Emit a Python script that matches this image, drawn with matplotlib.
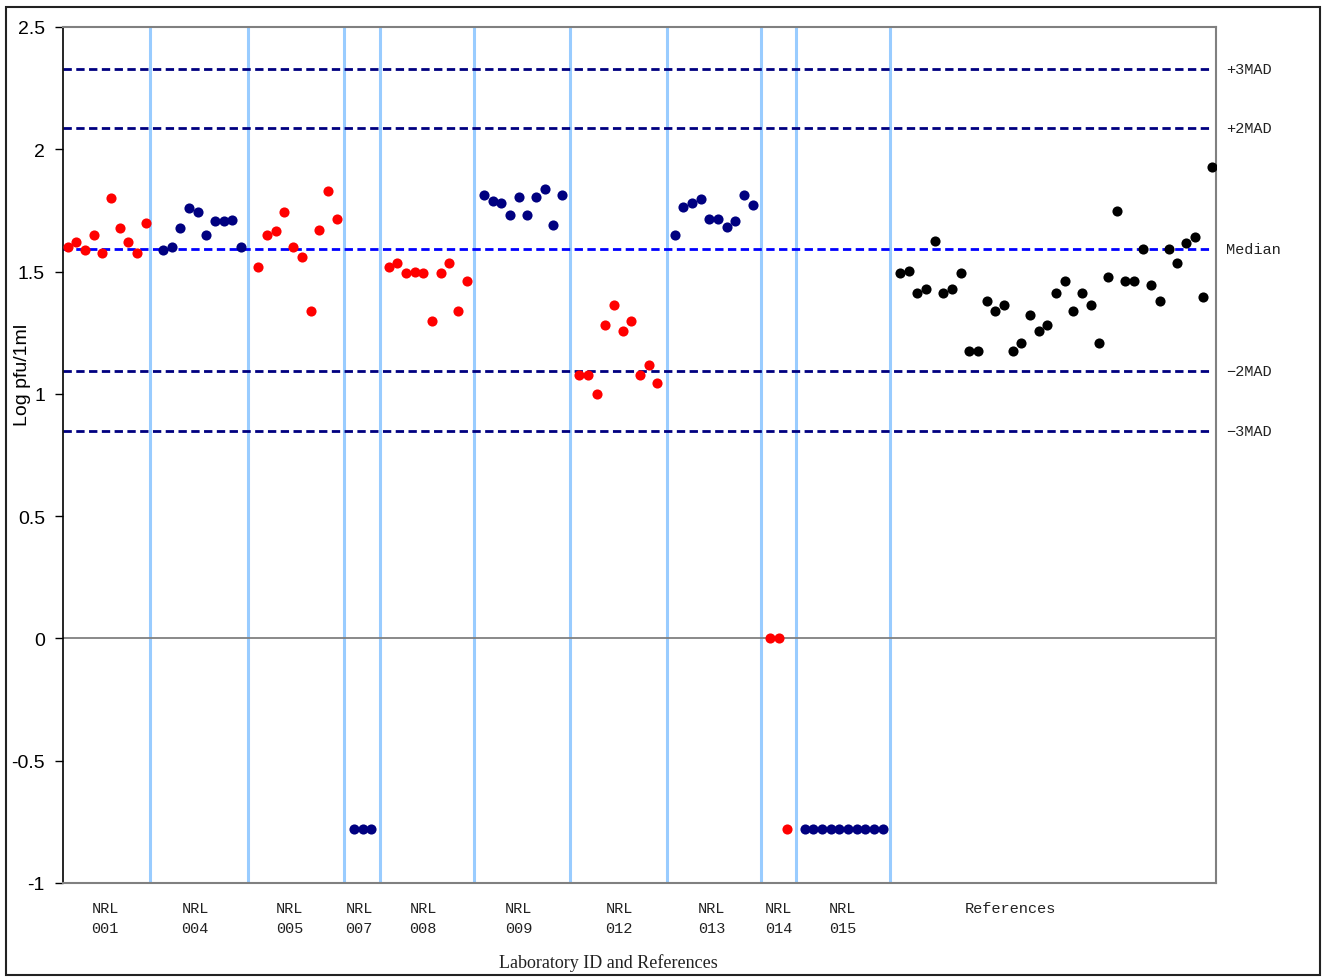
import matplotlib
matplotlib.use("Agg")
import matplotlib.pyplot as plt
from matplotlib.patches import Rectangle

plt.rcParams['axes.unicode_minus'] = False

# lab groups: values in log pfu/1ml
labs = ["001", "004", "005", "007", "008", "009", "012", "013", "014", "015"]
nrl001 = [1.60, 1.62, 1.59, 1.65, 1.575, 1.80, 1.68, 1.62, 1.575, 1.70]
nrl004 = [1.59, 1.60, 1.68, 1.76, 1.745, 1.65, 1.705, 1.705, 1.71, 1.60]
nrl005 = [1.52, 1.65, 1.665, 1.745, 1.60, 1.56, 1.34, 1.67, 1.83, 1.715]
nrl007 = [-0.778, -0.778, -0.778]
nrl008 = [1.517, 1.534, 1.495, 1.50, 1.495, 1.297, 1.495, 1.534, 1.338, 1.461]
nrl009 = [1.812, 1.788, 1.78, 1.731, 1.804, 1.731, 1.804, 1.837, 1.69, 1.812]
nrl012 = [1.076, 1.076, 1.0, 1.283, 1.363, 1.256, 1.297, 1.076, 1.117, 1.044]
nrl013 = [1.649, 1.763, 1.78, 1.796, 1.714, 1.714, 1.682, 1.706, 1.812, 1.771]
nrl014 = [0.0, 0.0, -0.778]
nrl015 = [-0.778] * 10
references = [1.494, 1.502, 1.412, 1.428, 1.624, 1.412, 1.428, 1.494, 1.175, 1.175,
              1.379, 1.338, 1.363, 1.175, 1.207, 1.322, 1.256, 1.281, 1.412, 1.461,
              1.338, 1.412, 1.363, 1.207, 1.477, 1.747, 1.461, 1.461, 1.592, 1.444,
              1.379, 1.592, 1.534, 1.616, 1.641, 1.395, 1.927]

lab_values = [nrl001, nrl004, nrl005, nrl007, nrl008, nrl009, nrl012, nrl013, nrl014, nrl015]
lab_colors = ['red', '#000080', 'red', '#000080', 'red', '#000080', 'red', '#000080', 'red', '#000080']
lab_starts = [0, 11, 22, 33, 37, 48, 59, 70, 81, 85]
ref_start = 96

# median and MAD limits
limit_names = ["+3MAD", "+2MAD", "Median", "\u22122MAD", "\u22123MAD"]
limit_values = [2.33, 2.085, 1.594, 1.094, 0.85]
limit_colors = ['#000080', '#000080', '#0000FF', '#000080', '#000080']

dividers = [9.5, 20.8, 31.9, 36.0, 46.85, 57.9, 69.1, 79.95, 84.0, 94.8]
label_pos = [4.3, 14.7, 25.6, 33.6, 41.0, 52.0, 63.6, 74.3, 82.0, 89.4]
ref_label_pos = 108.7

fig = plt.figure(figsize=(13.26, 9.78), dpi=100)
ax = fig.add_axes([63 / 1326, 1 - 884 / 978, (1216 - 63) / 1326, (884 - 28) / 978])

ax.set_xlim(-0.55, 132.45)
ax.set_ylim(-1, 2.5)

for d in dividers:
    ax.axvline(d, color='#99CCFF', lw=2.2, zorder=1)

ax.axhline(0, color='#808080', lw=1.3, zorder=1)

for v, c in zip(limit_values, limit_colors):
    ax.axhline(v, xmin=0, xmax=0.995, color=c, lw=2, ls=(0, (3, 1.6)), zorder=2)

for vals, col, start in zip(lab_values, lab_colors, lab_starts):
    xs = list(range(start, start + len(vals)))
    ax.plot(xs, vals, 'o', color=col, markersize=7.3, markeredgewidth=0, zorder=3)

xs = list(range(ref_start, ref_start + len(references)))
ax.plot(xs, references, 'o', color='black', markersize=7.3, markeredgewidth=0, zorder=3)

ax.set_yticks([-1, -0.5, 0, 0.5, 1, 1.5, 2, 2.5])
ax.set_yticklabels(["-1", "-0.5", "0", "0.5", "1", "1.5", "2", "2.5"],
                   fontsize=14, family='Liberation Sans')
ax.tick_params(axis='y', direction='out', length=6, width=1, pad=7, color='black')
ax.set_xticks([])

ax.spines['left'].set_color('black')
ax.spines['left'].set_linewidth(1.2)
for s in ['top', 'right', 'bottom']:
    ax.spines[s].set_color('#808080')
    ax.spines[s].set_linewidth(1.5)

fig.text(23 / 1326, 1 - 375 / 978, "Log pfu/1ml", rotation=90, ha='center', va='center',
         fontsize=14, family='Liberation Sans')

# lab labels below the axis
for name, p in zip(labs, label_pos):
    ax.text(p, -1.075, "NRL\n" + name, ha='center', va='top', fontsize=11,
            family='Liberation Mono', linespacing=1.55, color='#222222')
ax.text(ref_label_pos, -1.075, "References", ha='center', va='top', fontsize=11,
        family='Liberation Mono', color='#222222')

# limit labels on the right
for name, v in zip(limit_names, limit_values):
    ax.text(133.6, v, name, ha='left', va='center', fontsize=11,
            family='Liberation Mono', color='#222222')

fig.text(608 / 1326, 1 - 963 / 978, "Laboratory ID and References", ha='center', va='center',
         fontsize=13, family='Liberation Serif', color='#222222')

fig.patches.append(Rectangle((6 / 1326, 1 - 976 / 978), 1314 / 1326, 968 / 978,
                             transform=fig.transFigure, fill=False, edgecolor='#222222', lw=1.5))

fig.savefig("out.png", dpi=100)
